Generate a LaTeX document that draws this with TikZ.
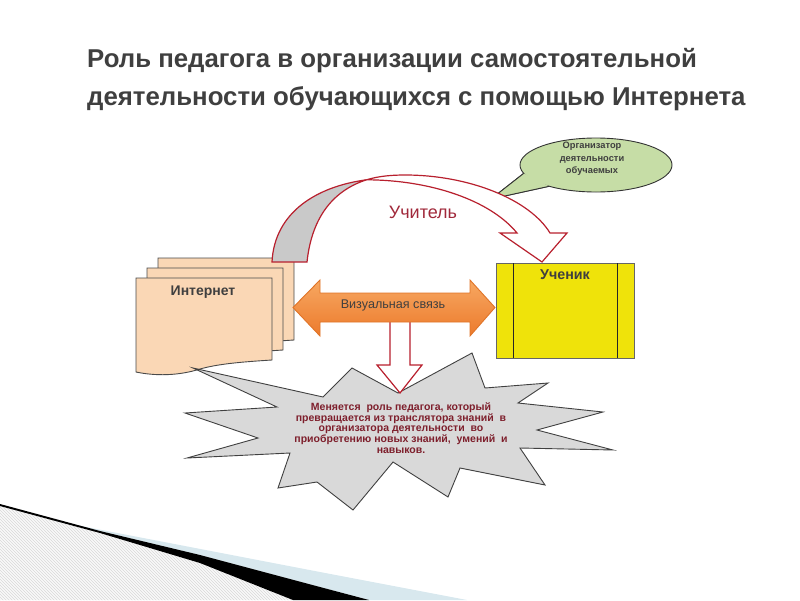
\documentclass[tikz,border=0pt]{standalone}
\usepackage{fontspec}
\setmainfont{Liberation Sans}
\usetikzlibrary{patterns}
\definecolor{titlegray}{HTML}{3F3F3F}
\definecolor{pagefill}{HTML}{FAD7B5}
\definecolor{pageline}{HTML}{4A4A4A}
\definecolor{redline}{HTML}{B8202E}
\definecolor{crescent}{HTML}{C9C9C9}
\definecolor{orangetop}{HTML}{F7A862}
\definecolor{orangebot}{HTML}{EC7A2C}
\definecolor{orangeline}{HTML}{E07428}
\definecolor{yellowfill}{HTML}{EFE30A}
\definecolor{bubblefill}{HTML}{C6DDA6}
\definecolor{starfill}{HTML}{D9D9D9}
\definecolor{startext}{HTML}{7E1F2C}
\definecolor{teachertext}{HTML}{A0283A}
\definecolor{decoblue}{HTML}{D8E8EE}
\tikzset{
  pagebox/.style={fill=pagefill, draw=pageline, line width=0.9},
  redarrow/.style={draw=redline, line width=1.2, line join=miter},
  labeltext/.style={text=titlegray, inner sep=0},
}
\begin{document}
\begin{tikzpicture}[x=1pt,y=-1pt]
\useasboundingbox (0,0) rectangle (800,600);

% ---- decoration bottom-left
\fill[gray!5] (0,506) -- (100,533) -- (200,563) -- (293,600) -- (0,600) -- cycle;
\fill[pattern=north west lines, pattern color=gray!30] (0,506) -- (100,533) -- (200,563) -- (293,600) -- (0,600) -- cycle;
\fill[decoblue] (55,521) -- (320,572) -- (467,600) -- (369,600) -- (200,555) -- (100,531) -- cycle;
\fill[black] (0,504) -- (100,531) -- (200,555) -- (320,587) -- (369,600) -- (293,600) -- (200,563) -- (100,533) -- (0,506) -- cycle;

% ---- title
\node[labeltext, font=\fontsize{25.8}{38}\selectfont\bfseries, align=left, anchor=north west] (title) at (87,48)
  {Роль педагога в организации самостоятельной\\деятельности обучающихся с помощью Интернета};

% ---- speech bubble
\coordinate (tb1) at ({596+76*cos(162)},{165+27*sin(162)});
\coordinate (tb2) at ({596+76*cos(128)},{165+27*sin(128)});
\coordinate (ttip) at (491,199);
\draw[fill=bubblefill, draw=black!80, line width=0.9] (tb1) -- (ttip) -- (tb2);
\draw[fill=bubblefill, draw=black!80, line width=0.9] (596,165) ellipse [x radius=76, y radius=27];
\fill[bubblefill] (tb1) -- (ttip) -- (tb2) -- cycle;
\draw[draw=black!80, line width=0.9] (tb1) -- (ttip) -- (tb2);
\node[labeltext, font=\fontsize{9.3}{12.4}\selectfont\bfseries, align=center] (org) at (592,159)
  {Организатор\\деятельности\\обучаемых};

% ---- Internet pages
\foreach \dx/\dy in {22/-20, 11/-10, 0/0}{
  \begin{scope}[shift={(\dx,\dy)}]
  \path[pagebox] (136,278) -- (272,278) -- (272,360)
     .. controls (240,362) and (218,364) .. (200,369)
     .. controls (178,376) and (155,376) .. (136,372) -- cycle;
  \end{scope}
}
\node[labeltext, font=\fontsize{14}{16}\selectfont\bfseries] (internet) at (203,292) {Интернет};

% ---- starburst
\draw[fill=starfill, draw=black!75, line width=0.9, line join=miter]
  (193,368) -- (277,407) -- (185,413) -- (258,438) -- (187,458) -- (290,453)
  -- (278,488) -- (317,482) -- (353,510) -- (393,462) -- (448,497) -- (460,468)
  -- (545,485) -- (520,448) -- (613,450) -- (537,430) -- (603,412) -- (518,403)
  -- (548,383) -- (485,388) -- (472,353) -- (398,393) -- (352,368) -- (323,397) -- cycle;
\node[text=startext, inner sep=0, font=\fontsize{10.5}{10.7}\selectfont\bfseries, align=center] (change) at (401,428)
  {Меняется \ роль педагога, который\\превращается из транслятора знаний \ в\\организатора деятельности \ во\\приобретению новых знаний, \ умений \ и\\навыков.};

% ---- down arrow
\draw[redarrow, fill=white] (390,318) -- (410,318) -- (410,365) -- (422,365) -- (400,393)
  -- (377,365) -- (390,365) -- cycle;

% ---- double arrow
\draw[top color=orangetop, bottom color=orangebot, draw=orangeline, line width=0.9]
  (293,307.5) -- (320,280) -- (320,293) -- (470,293) -- (470,280) -- (495,307.5)
  -- (470,336) -- (470,322) -- (320,322) -- (320,336) -- cycle;
\node[labeltext, font=\fontsize{12.6}{14}\selectfont] (visual) at (393,305) {Визуальная связь};

% ---- yellow box
\draw[fill=yellowfill, draw=black!60, line width=0.8] (496,263) rectangle (634,358);
\draw[black!85, line width=1] (513,263) -- (513,358) (617,263) -- (617,358);
\node[labeltext, font=\fontsize{14.3}{16}\selectfont\bfseries] (pupil) at (565,275) {Ученик};

% ---- curved arrow (teacher)
\draw[redarrow, fill=crescent] (272,262) .. controls (274.4,212.4) and (316.5,186.5) .. (366.5,179.8)
   .. controls (335,190) and (312,215) .. (307,262) -- cycle;
\draw[redarrow, fill=white] (366.5,179.8) .. controls (379,176) and (392,175) .. (405,175)
   .. controls (470,175) and (530,200) .. (550,233) -- (567,233) -- (542,262) -- (500,233) -- (517,233)
   .. controls (490,200) and (430,180) .. (366.5,179.8) -- cycle;
\node[text=teachertext, inner sep=0, font=\fontsize{18}{20}\selectfont] (teacher) at (423,212) {Учитель};

\end{tikzpicture}
\end{document}
